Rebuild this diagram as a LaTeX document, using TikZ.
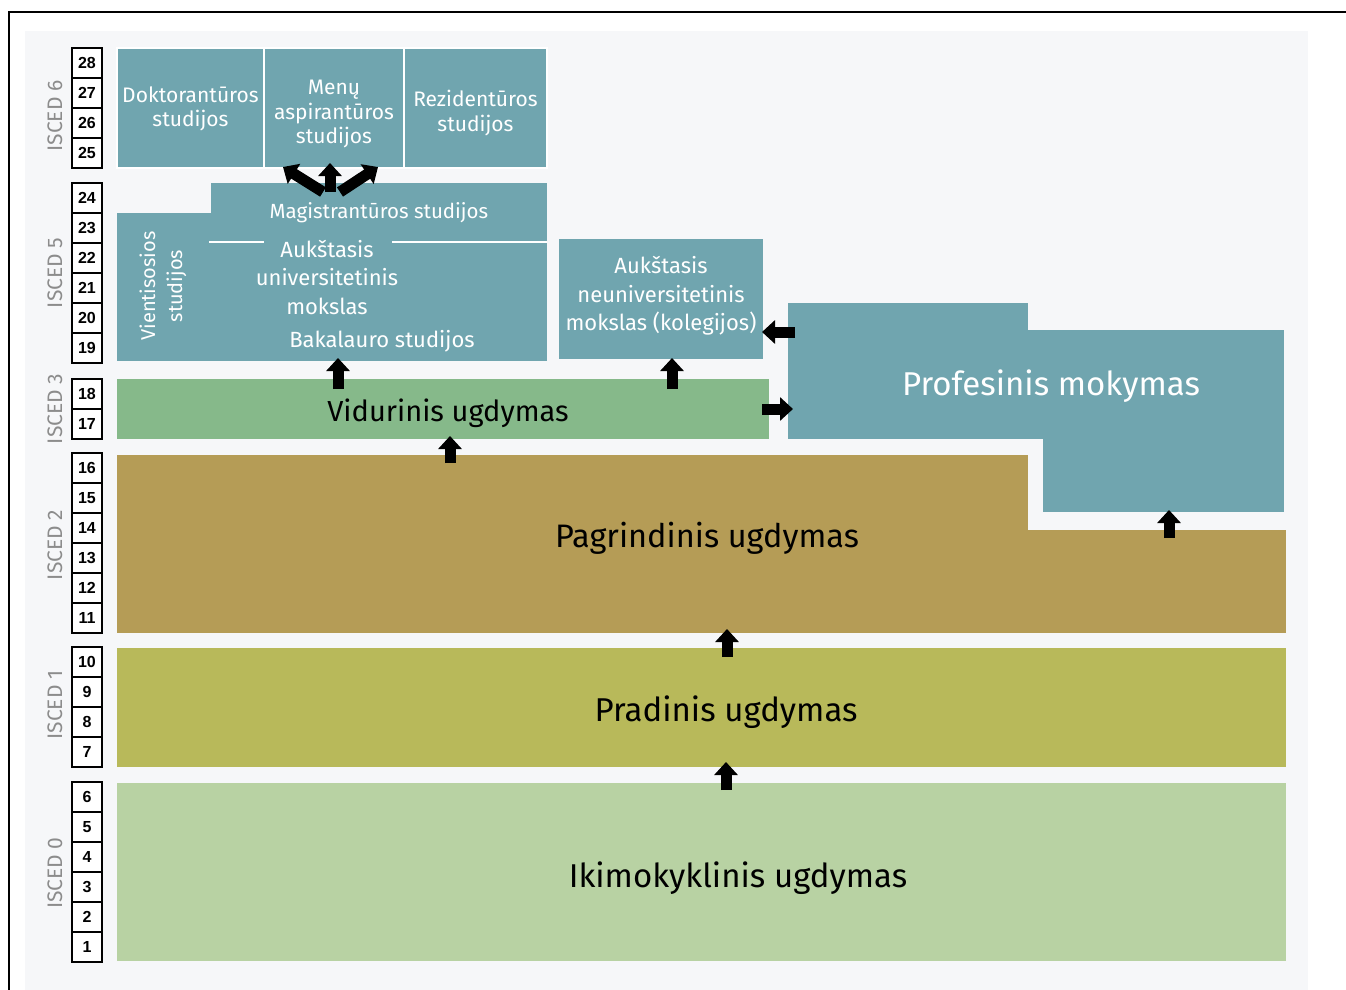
\documentclass[tikz,border=0pt]{standalone}
\usepackage{fontspec}
\setmainfont{Fira Sans}
\newfontfamily\numfont{Liberation Sans}
\usetikzlibrary{arrows.meta,positioning}

\definecolor{bgc}{HTML}{F6F7F9}
\definecolor{tealc}{HTML}{70A5AF}
\definecolor{vidc}{HTML}{86B98A}
\definecolor{pagrc}{HTML}{B59C56}
\definecolor{pradc}{HTML}{B8B95A}
\definecolor{ikic}{HTML}{B8D2A3}
\definecolor{iscedc}{HTML}{8C8C8C}

\begin{document}
\begin{tikzpicture}[x=1pt,y=-1pt,>={Triangle[width=23pt,length=13pt]},
    year/.style={draw,line width=1.5pt,fill=white,minimum size=30pt,inner sep=0pt,font=\numfont\bfseries\fontsize{16}{16}\selectfont},
    isced/.style={rotate=90,text=iscedc,font=\fontsize{21}{21}\selectfont},
    block/.style={anchor=north west,inner sep=0pt,outer sep=0pt},
    topbox/.style={block,fill=tealc,draw=white,line width=2.5pt,minimum height=120pt},
    wtext/.style={text=white,align=center,font=\fontsize{22}{28.5}\selectfont},
    toptext/.style={text=white,align=center,font=\fontsize{21}{24.5}\selectfont},
    big/.style={anchor=base,font=\fontsize{33}{33}\selectfont},
    up/.style={->,line width=11pt}]

    \useasboundingbox (0,0) rectangle (1346,990);
    \fill[bgc] (25,31) rectangle (1308,990);
    \draw[line width=2pt] (9,990) -- (9,12) -- (1346,12);

    % levels
    \node[block,fill=ikic,minimum width=1169pt,minimum height=178pt] (ikimo) at (117,783) {};
    \node[block,fill=pradc,minimum width=1169pt,minimum height=119pt] (pradinis) at (117,648) {};
    \node[block,fill=pagrc,minimum width=911pt,minimum height=178pt] (pagr) at (117,455) {};
    \node[block,fill=pagrc,minimum width=266pt,minimum height=103pt] (pagrR) at (1020,530) {};
    \node[block,fill=vidc,minimum width=652pt,minimum height=60pt] (vidur) at (117,379) {};
    \node[block,fill=tealc,minimum width=256pt,minimum height=109pt] (profL) at (788,330) {};
    \node[block,fill=tealc,minimum width=241pt,minimum height=182pt] (prof) at (1043,330) {};
    \fill[tealc] (788,303) rectangle (1028,331);
    \node[block,fill=tealc,minimum width=204pt,minimum height=120pt] (koleg) at (559,239) {};
    \node[block,fill=tealc,minimum width=430pt,minimum height=148pt] (univ) at (117,213) {};
    \node[block,fill=tealc,minimum width=336pt,minimum height=59pt,text=white,font=\fontsize{20.5}{20.5}\selectfont] (mag) at (211,183) {Magistrantūros studijos};
    \draw[white,line width=2pt] (209,242) -- (264,242) (392,242) -- (547,242);

    \node[topbox,minimum width=147pt] (dokt) at (117,48) {};
    \node[topbox,minimum width=140pt,right=0pt of dokt] (menu) {};
    \node[topbox,minimum width=143pt,right=0pt of menu] (rez) {};

    % texts
    \node[toptext] (dokttxt) at ([yshift=-1pt]dokt.center) {Doktorantūros\\studijos};
    \node[toptext] (menutxt) at ([yshift=-6pt]menu.center) {Menų\\aspirantūros\\studijos};
    \node[toptext] (reztxt) at ([yshift=-5pt]rez.center) {Rezidentūros\\studijos};
    \node[wtext] (kolegtxt) at ([yshift=3pt]koleg.center) {Aukštasis\\neuniversitetinis\\mokslas (kolegijos)};
    \node[wtext] (aukst) at (327,277) {Aukštasis\\universitetinis\\mokslas};
    \node[wtext] (bakal) at (382,341) {Bakalauro studijos};
    \node[wtext,rotate=90,font=\fontsize{20}{27}\selectfont] (vient) at (163,286) {Vientisosios\\studijos};

    \node[big] (ikitxt) at (738,887) {Ikimokyklinis ugdymas};
    \node[big] (pradtxt) at (726,721) {Pradinis ugdymas};
    \node[big,font=\fontsize{32.5}{33}\selectfont] (pagrtxt) at (707,547) {Pagrindinis ugdymas};
    \node[big,font=\fontsize{29}{29}\selectfont] (vidtxt) at (448,421) {Vidurinis ugdymas};
    \node[big,text=white] (proftxt) at (1051,395) {Profesinis mokymas};

    % arrows
    \draw[up,shorten <=-7pt,shorten >=-5pt] ([xshift=24.5pt]ikimo.north) -- ([xshift=24.5pt]pradinis.south);
    \draw[up,shorten <=-9pt,shorten >=-4pt] ([xshift=25.5pt]pradinis.north) -- ([xshift=154.5pt]pagr.south);
    \draw[up,shorten <=-8pt,shorten >=-3pt] ([xshift=-122.5pt]pagr.north) -- ([xshift=7pt]vidur.south);
    \draw[up,shorten <=-10pt,shorten >=-3pt] ([xshift=-105pt]vidur.north) -- ([xshift=6pt]univ.south);
    \draw[up,shorten <=-10pt,shorten >=-1pt] ([xshift=229pt]vidur.north) -- ([xshift=11pt]koleg.south);
    \draw[up,shorten <=-7pt,shorten >=-5pt] (vidur.east) -- ([yshift=-24.5pt]profL.west);
    \draw[up,shorten <=-7pt,shorten >=-1pt] ([yshift=52.5pt]profL.west) -- ([yshift=-33pt]koleg.east);
    \draw[up,shorten <=-8pt,shorten >=-2pt] ([xshift=16pt]pagrR.north) -- ([xshift=5.5pt]prof.south);
    \draw[up] ([xshift=-56pt,yshift=-9pt]mag.north) -- ([xshift=19pt,yshift=1pt]dokt.south east);
    \draw[up] ([xshift=-49pt,yshift=-9pt]mag.north) -- ([xshift=-4pt,yshift=5pt]menu.south);
    \draw[up] ([xshift=-39pt,yshift=-9pt]mag.north) -- ([xshift=-26pt,yshift=1pt]rez.south west);

    % years
    \foreach \n/\yy in {1/947,2/917,3/887,4/857,5/827,6/797,7/752,8/722,9/692,10/662,
        11/618,12/588,13/558,14/528,15/498,16/468,17/424,18/394,
        19/348,20/318,21/288,22/258,23/228,24/198,25/153,26/123,27/93,28/63}
        \node[year] (y\n) at (87,\yy) {\n};

    \node[isced] (i0) at (55,873) {ISCED 0};
    \node[isced] (i1) at (55,705) {ISCED 1};
    \node[isced] (i2) at (55,545) {ISCED 2};
    \node[isced] (i3) at (55,409) {ISCED 3};
    \node[isced] (i5) at (55,273) {ISCED 5};
    \node[isced] (i6) at (55,116) {ISCED 6};
\end{tikzpicture}
\end{document}
